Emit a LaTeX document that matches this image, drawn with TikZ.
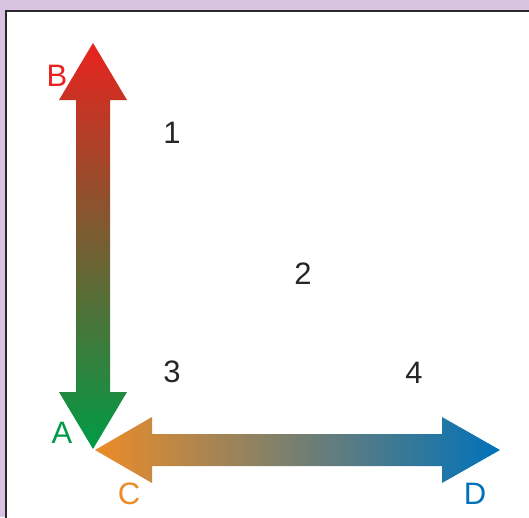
\documentclass[tikz,border=0pt]{standalone}
\usepackage{fontspec}
\setmainfont{Liberation Sans}
\usetikzlibrary{positioning}
\definecolor{frameback}{RGB}{216,195,224}
\definecolor{frameline}{RGB}{40,40,45}
\definecolor{tipred}{RGB}{232,35,30}
\definecolor{tipgreen}{RGB}{0,155,70}
\definecolor{tiporange}{RGB}{236,140,40}
\definecolor{tipblue}{RGB}{0,114,186}
\tikzset{
  lbl/.style={inner sep=0pt,font=\fontsize{31}{31}\selectfont},
  num/.style={lbl,text=black!85},
  vgrad/.style={top color=tipred,bottom color=tipgreen},
  hgrad/.style={left color=tiporange,right color=tipblue}
}

\begin{document}
\begin{tikzpicture}[x=1pt,y=-1pt]
\useasboundingbox (0,0) rectangle (529,517);
\clip (0,0) rectangle (529,517);
\fill[frameback] (0,0) rectangle (529,517);
\draw[frameline,fill=white,line width=2.5pt] (6,11) rectangle (545,535);
% arrow tips
\coordinate (tipB) at (93,43);
\coordinate (tipA) at (93,449);
\coordinate (tipC) at (95,450);
\coordinate (tipD) at (500,450);
% C -- D
\shade[hgrad] (tipC) -- ++(57,-33) -- ++(0,17) -- ++(290,0) -- ++(0,-17)
  -- (tipD) -- ++(-58,33) -- ++(0,-17) -- ++(-290,0) -- ++(0,17) -- cycle;
% B -- A
\shade[vgrad] (tipB) -- ++(34,57) -- ++(-17,0) -- ++(0,292) -- ++(17,0)
  -- (tipA) -- ++(-34,-57) -- ++(17,0) -- ++(0,-292) -- ++(-17,0) -- cycle;
\node[lbl,text=tipred] (lblB) at (57,76) {B};
\node[lbl,text=tipgreen] (lblA) at (62,433) {A};
\node[lbl,text=tiporange] (lblC) at (129,494) {C};
\node[lbl,text=tipblue] (lblD) at (475,494) {D};
\node[num] (n1) at (172,133) {1};
\node[num] (n2) at (303,274) {2};
\node[num] (n3) at (172,372) {3};
\node[num] (n4) at (414,373) {4};
\end{tikzpicture}
\end{document}
